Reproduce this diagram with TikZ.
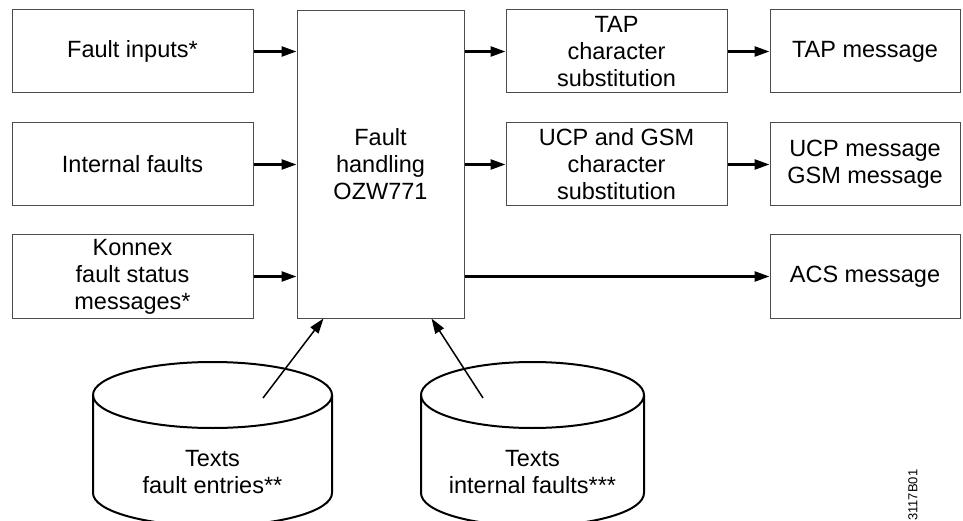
\documentclass[tikz,border=0pt]{standalone}
\usepackage{fontspec}
\setmainfont{Liberation Sans}
\usetikzlibrary{arrows.meta, positioning}

\begin{document}
\begin{tikzpicture}[x=1pt, y=1pt,
    box/.style={rectangle, draw=black!70, line width=1pt, minimum width=241pt, minimum height=83pt, text centered, align=center, inner sep=0pt, font=\fontsize{23.5}{27}\selectfont},
    subbox/.style={box, minimum width=221pt},
    msgbox/.style={box, minimum width=190pt},
    arrow/.style={-{Triangle[length=15pt, width=10pt]}, line width=2.5pt},
    thinarrow/.style={-{Triangle[length=15pt, width=10pt]}, line width=1.5pt},
    store/.style={line width=2pt},
    storetext/.style={inner sep=0pt, align=center, font=\fontsize{23.5}{27}\selectfont}
]
\useasboundingbox (0,0) rectangle (963,-521);
\clip (0,0) rectangle (963,-521);

\node[box] (fin) at (132.5,-51.5) {Fault inputs*};
\node[box, below=29pt of fin] (intf) {Internal faults};
\node[box, below=28pt of intf] (knx) {Konnex\\fault status\\messages*};
\node[box, right=43pt of intf, minimum width=167pt, minimum height=307pt] (fh) {Fault\\handling\\OZW771};

\node[subbox] (tap) at (616.5,-51.5) {TAP\\character\\substitution};
\node[subbox, below=29pt of tap] (ucp) {UCP and GSM\\character\\substitution};
\node[msgbox, right=42pt of tap] (tapmsg) {TAP message};
\node[msgbox, right=42pt of ucp] (ucpmsg) {UCP message\\GSM message};
\node[msgbox, below=28pt of ucpmsg] (acs) {ACS message};

% text stores
\draw[store] (212.5,-395) ellipse [x radius=119.5, y radius=33];
\draw[store] (93,-395) -- (93,-493) arc[start angle=180, end angle=360, x radius=119.5, y radius=33] -- (332,-395);
\draw[store] (532.5,-395) ellipse [x radius=111.5, y radius=33];
\draw[store] (421,-395) -- (421,-493) arc[start angle=180, end angle=360, x radius=111.5, y radius=33] -- (644,-395);
\node[storetext] (fetext) at (212.5,-472) {Texts\\fault entries**};
\node[storetext] (iftext) at (532.5,-472) {Texts\\internal faults***};
\coordinate (fe) at (263,-398);
\coordinate (if) at (483,-398);

\draw[arrow] (fin) -- (fin -| fh.west);
\draw[arrow] (intf) -- (fh);
\draw[arrow] (knx) -- (knx -| fh.west);
\draw[arrow] (fh.east |- tap) -- (tap);
\draw[arrow] (fh.east |- ucp) -- (ucp);
\draw[arrow] (tap) -- (tapmsg);
\draw[arrow] (ucp) -- (ucpmsg);
\draw[arrow] (fh.east |- acs) -- (acs);
\draw[thinarrow] (fe) -- ([xshift=27pt]fh.south west);
\draw[thinarrow] (if) -- ([xshift=-33pt]fh.south east);

\node[rotate=90, anchor=west, inner sep=0pt, font=\fontsize{13}{15}\selectfont] (code) at (913,-521) {3117B01};
\end{tikzpicture}
\end{document}
